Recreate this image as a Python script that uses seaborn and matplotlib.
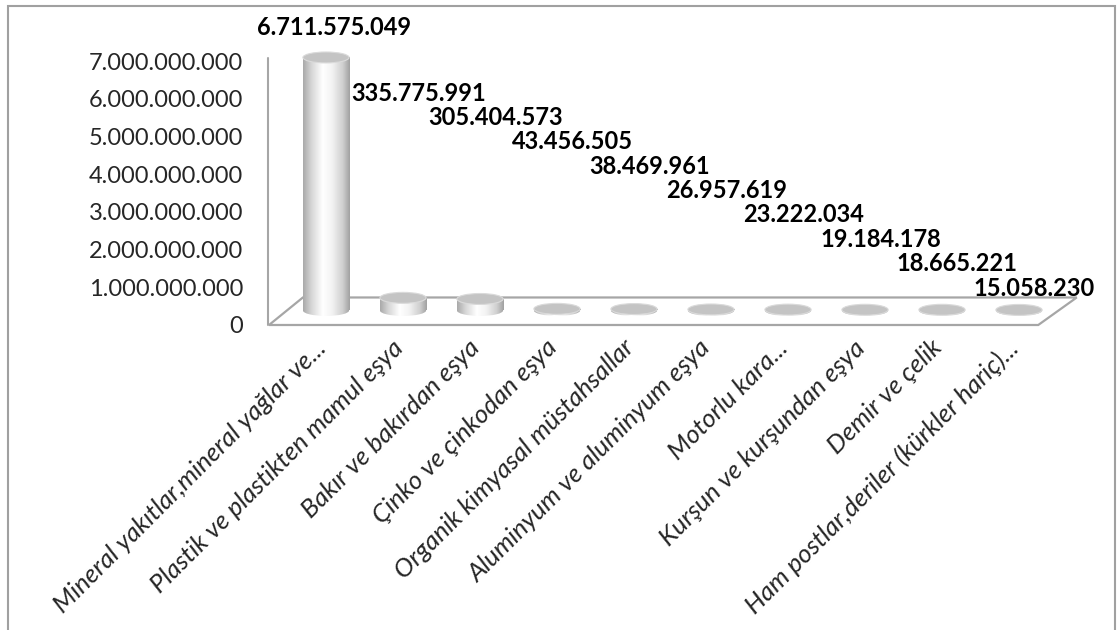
import numpy as np
import matplotlib
matplotlib.use('Agg')
import matplotlib.pyplot as plt
import seaborn as sns
from matplotlib.colors import LinearSegmentedColormap
from matplotlib.patches import Ellipse, Polygon, Rectangle
from matplotlib.ticker import FuncFormatter
from matplotlib.transforms import ScaledTranslation

# veriler
categories = [
    'Mineral yakıtlar,mineral yağlar ve...',
    'Plastik ve plastikten mamul eşya',
    'Bakır ve bakırdan eşya',
    'Çinko ve çinkodan eşya',
    'Organik kimyasal müstahsallar',
    'Aluminyum ve aluminyum eşya',
    'Motorlu kara...',
    'Kurşun ve kurşundan eşya',
    'Demir ve çelik',
    'Ham postlar,deriler (kürkler hariç)...',
]
values = [6711575049, 335775991, 305404573, 43456505, 38469961,
          26957619, 23222034, 19184178, 18665221, 15058230]
y_ticks = [0, 1e9, 2e9, 3e9, 4e9, 5e9, 6e9, 7e9]

sns.set_style('white')
plt.rcParams['font.family'] = ['Lato', 'DejaVu Sans']
FS = 17

fig = plt.figure(figsize=(11.17, 6.30), dpi=100)
ax = fig.add_axes([250 / 1117, (630 - 338) / 630, 840 / 1117, (338 - 40) / 630])

n = len(values)
base = 0.385e9   # derinlik: silindirler zeminin ortasinda duruyor
bar_w = 0.6
cap_h = 0.29e9

# zemin (3B taban)
floor = Polygon([(-0.74, 0), (9.25, 0), (9.75, 0.73e9), (-0.30, 0.73e9)],
                closed=True, facecolor='white', edgecolor='#a6a6a6', lw=1.6, zorder=1)
ax.add_patch(floor)
ax.plot([-0.753, -0.753], [0, 7.08e9], color='#a6a6a6', lw=1.5, zorder=1)

sns.barplot(x=categories, y=values, bottom=base, width=bar_w, color='white',
            linewidth=0, ax=ax, zorder=3)

# silindir gorunumu
body_cmap = LinearSegmentedColormap.from_list('cyl', [
    (0, '#a9a9a9'), (0.18, '#d6d6d6'), (0.42, '#ffffff'),
    (0.62, '#f3f3f3'), (0.85, '#cfcfcf'), (1, '#a0a0a0')])
grad = np.linspace(0, 1, 256).reshape(1, -1)
for bar, v in zip(ax.containers[0], values):
    x0 = bar.get_x()
    w = bar.get_width()
    xc = x0 + w / 2
    top = base + v
    bar.set_facecolor('none')
    bar.set_edgecolor('none')
    im = ax.imshow(grad, cmap=body_cmap, extent=(x0, x0 + w, base, top),
                   aspect='auto', zorder=3, interpolation='bilinear')
    im.set_clip_path(bar)
    bottom_cap = Ellipse((xc, base), w, cap_h, facecolor='none', edgecolor='none')
    ax.add_patch(bottom_cap)
    im2 = ax.imshow(grad, cmap=body_cmap, extent=(x0, x0 + w, base - cap_h / 2, base + 1),
                    aspect='auto', zorder=3, interpolation='bilinear')
    im2.set_clip_path(bottom_cap)
    ax.add_patch(Ellipse((xc, top), w, cap_h, facecolor='#c4c4c4',
                         edgecolor='#dadada', lw=0.8, zorder=4))

# deger etiketleri (Excel'deki merdiven dizilimi)
label_x = np.arange(n) + 0.2
label_x[0] = 0.1
label_y = np.r_[values[0] + 1.17e9, np.linspace(6.15e9, 0.98e9, n - 1)]
for i, v in enumerate(values):
    ax.text(label_x[i], label_y[i], f'{v:,}'.replace(',', '.'), ha='center', va='center',
            fontsize=FS, fontweight='bold', color='black', clip_on=False, zorder=5)

ax.set_xlim(-0.987, 9.922)
ax.set_ylim(-0.345e9, 7.56e9)
ax.set_yticks(y_ticks)
ax.yaxis.set_major_formatter(FuncFormatter(lambda v, p: f'{v:,.0f}'.replace(',', '.')))
ax.tick_params(axis='y', length=0, pad=5, labelsize=FS)
ax.set_xticks(range(n))
ax.set_xticklabels(categories, rotation=45, ha='right', va='center',
                   rotation_mode='anchor', fontstyle='italic', fontsize=18.5)
ax.tick_params(axis='x', length=0, pad=0)
shift = ScaledTranslation(-4 / 100, -6 / 100, fig.dpi_scale_trans)
for lbl in ax.get_xticklabels():
    lbl.set_transform(lbl.get_transform() + shift)
ax.set_xlabel('')
ax.set_ylabel('')
sns.despine(ax=ax, left=True, bottom=True)

fig.add_artist(Rectangle((8 / 1117, -0.05), 1107 / 1117, 1.05 - 6 / 630,
                         transform=fig.transFigure, fill=False,
                         edgecolor='#a0a0a0', lw=1.5))

fig.savefig('out.png', dpi=100)
